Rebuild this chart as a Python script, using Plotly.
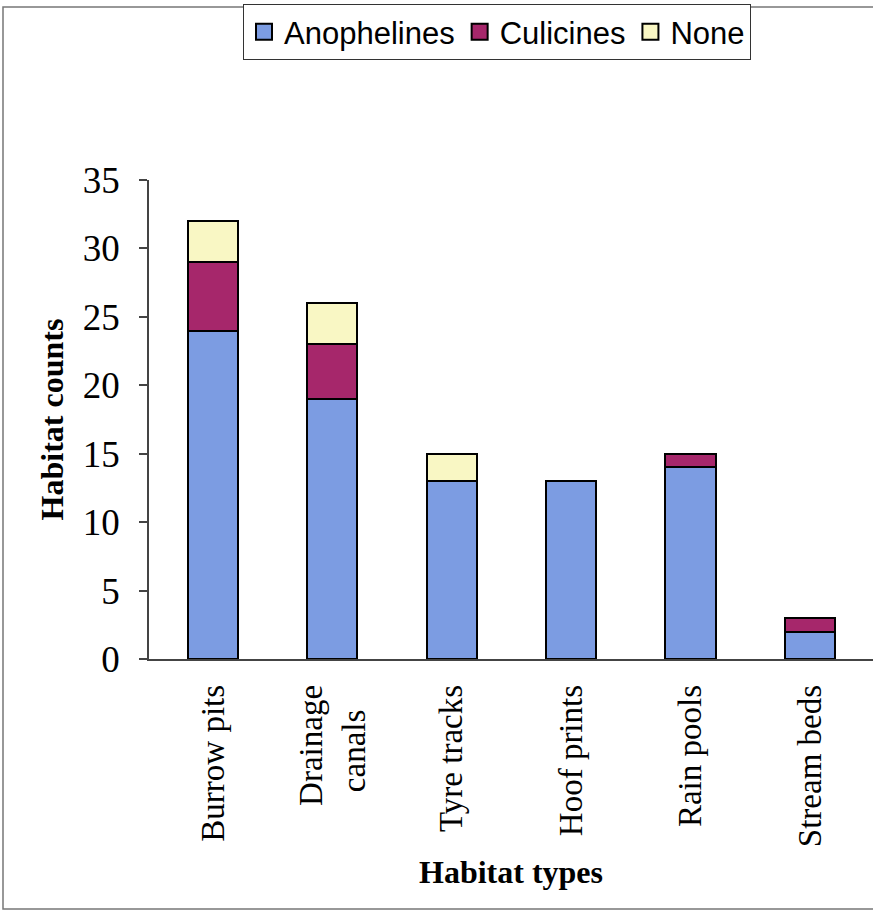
import plotly.graph_objects as go

habitats = ["Burrow pits", "Drainage<br>canals\u00a0\u00a0\u00a0", "Tyre tracks", "Hoof prints", "Rain pools", "Stream beds"]
anophelines = [24, 19, 13, 13, 14, 2]
culicines = [5, 4, 0, 0, 1, 1]
none_found = [3, 3, 2, 0, 0, 0]

series = [
    ("Anophelines", anophelines, "#7c9ce2"),
    ("Culicines", culicines, "#a6276b"),
    ("None", none_found, "#f9f7c4"),
]

fig = go.Figure()
for name, vals, color in series:
    fig.add_trace(go.Bar(
        x=habitats, y=vals, name=name, legendgroup=name, showlegend=False,
        marker=dict(color=color, line=dict(color="black", width=2)),
        width=0.42,
    ))
# larger square swatches for the legend
for name, vals, color in series:
    fig.add_trace(go.Scatter(
        x=[None], y=[None], mode="markers", name=name, legendgroup=name,
        marker=dict(symbol="square", size=19, color=color,
                    line=dict(color="black", width=2)),
    ))

W, H = 873, 911
ml, mr, mt, mb = 149, 0, 180, 252
pw, ph = W - ml - mr, H - mt - mb

def px_x(p):
    return (p - ml) / pw

def px_y(p):
    return (H - mb - p) / ph

SERIF = "Liberation Serif, Times New Roman, serif"
SANS = "Liberation Sans, Arial, sans-serif"

fig.update_layout(
    width=W, height=H,
    margin=dict(l=ml, r=mr, t=mt, b=mb),
    barmode="stack",
    paper_bgcolor="white",
    plot_bgcolor="white",
    font=dict(family=SERIF, color="black"),
    legend=dict(
        orientation="h",
        traceorder="normal",
        x=px_x(497), y=px_y(32), xanchor="center", yanchor="middle",
        font=dict(family=SANS, size=31, color="black"),
        bordercolor="#333333", borderwidth=1,
        bgcolor="white",
        itemsizing="trace",
        itemwidth=30,
    ),
    xaxis=dict(
        range=[-0.536, 5.528],
        showline=True, linecolor="#444444", linewidth=1.5,
        ticks="", tickangle=-90,
        ticklabelstandoff=11,
        tickfont=dict(size=33, family=SERIF),
        showgrid=False,
        title=dict(text="<b>Habitat types</b>", font=dict(size=32), standoff=14),
    ),
    yaxis=dict(
        range=[0, 35], dtick=5,
        showline=True, linecolor="#444444", linewidth=1.5,
        ticks="outside", ticklen=8, tickcolor="#444444", tickwidth=1.5,
        ticklabelstandoff=12,
        tickfont=dict(size=37, family=SERIF),
        showgrid=False, zeroline=False,
        title=dict(text="<b>Habitat counts</b>", font=dict(size=32), standoff=10),
    ),
    shapes=[dict(
        type="rect", xref="paper", yref="paper",
        x0=px_x(3), x1=px_x(880), y0=px_y(909), y1=px_y(7),
        line=dict(color="#777777", width=1.5), fillcolor="rgba(0,0,0,0)",
        layer="below",
    )],
)

fig.write_html("out.html")
